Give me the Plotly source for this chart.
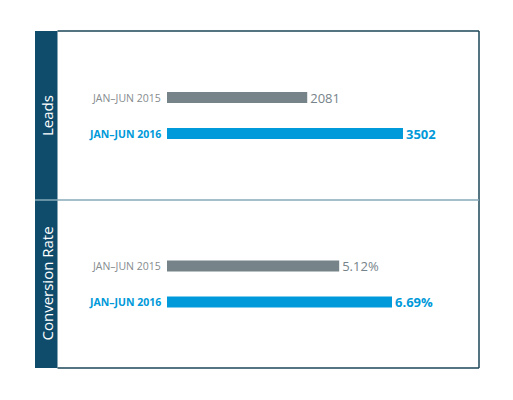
import plotly.graph_objects as go

# data
periods = ["JAN–JUN 2015", "JAN–JUN 2016"]
leads = [2081, 3502]
leads_text = ["2081", "<b>3502</b>"]
conversion = [5.12, 6.69]
conversion_text = ["5.12%", "<b>6.69%</b>"]
panel_titles = ["Leads", "Conversion Rate"]

GRAY = "#76848a"
BLUE = "#0099d9"
NAVY = "#0f4c6c"
BORDER = "#1d4658"
SEP = "#86a9b8"
W, H = 513, 400
FONT = "Open Sans"


def px_x(v):
    return v / W


def px_y(v):
    return 1 - v / H


fig = go.Figure()

bar_colors = [GRAY, BLUE]

for xs, txt, xa, ya in [(leads, leads_text, "x", "y"), (conversion, conversion_text, "x2", "y2")]:
    fig.add_trace(go.Bar(
        x=xs, y=periods, orientation="h", xaxis=xa, yaxis=ya,
        marker=dict(color=bar_colors, line=dict(width=0)), width=0.31,
        text=txt, textposition="outside", cliponaxis=False, constraintext="none",
        textfont=dict(color=bar_colors, size=13, family=FONT),
        hoverinfo="skip",
    ))

# category labels left of bars
for yref, xref in [("y", "x"), ("y2", "x2")]:
    for i, p in enumerate(periods):
        fig.add_annotation(
            x=0, y=p, xref=xref, yref=yref, text=p if i == 0 else "<b>%s</b>" % p,
            xanchor="right", xshift=-4, showarrow=False,
            font=dict(size=10.5, color="#858b8e" if i == 0 else BLUE, family=FONT),
        )

# sidebar titles
for title, yc in zip(panel_titles, [115.5, 284]):
    fig.add_annotation(
        x=px_x(46.5), y=px_y(yc), xref="paper", yref="paper", text=title,
        textangle=-90, showarrow=False, xanchor="center", yanchor="middle",
        font=dict(size=15, color="white", family=FONT),
    )

shapes = [
    dict(type="rect", xref="paper", yref="paper", x0=px_x(35), x1=px_x(57.5),
         y0=px_y(368), y1=px_y(31), fillcolor=NAVY, line=dict(width=0), layer="below"),
    dict(type="line", xref="paper", yref="paper", x0=px_x(57.5), x1=px_x(479),
         y0=px_y(31), y1=px_y(31), line=dict(color=BORDER, width=1.5)),
    dict(type="line", xref="paper", yref="paper", x0=px_x(479), x1=px_x(479),
         y0=px_y(31), y1=px_y(368), line=dict(color=BORDER, width=1.5)),
    dict(type="line", xref="paper", yref="paper", x0=px_x(57.5), x1=px_x(479),
         y0=px_y(368), y1=px_y(368), line=dict(color=BORDER, width=1.5)),
    dict(type="line", xref="paper", yref="paper", x0=px_x(35), x1=px_x(479),
         y0=px_y(200), y1=px_y(200), line=dict(color=SEP, width=1.5)),
]

axis_common = dict(showgrid=False, zeroline=False, showticklabels=False, showline=False, fixedrange=True)
fig.update_layout(
    width=W, height=H,
    margin=dict(l=0, r=0, t=0, b=0),
    paper_bgcolor="white", plot_bgcolor="white",
    showlegend=False,
    shapes=shapes,
    xaxis=dict(domain=[px_x(167), px_x(479)], range=[0, 4630], anchor="y", **axis_common),
    yaxis=dict(domain=[px_y(200), px_y(31)], range=[2.847, -1.847], anchor="x",
               type="category", categoryarray=periods, **axis_common),
    xaxis2=dict(domain=[px_x(167), px_x(479)], range=[0, 9.277], anchor="y2", **axis_common),
    yaxis2=dict(domain=[px_y(368), px_y(200)], range=[2.833, -1.833], anchor="x2",
                type="category", categoryarray=periods, **axis_common),
)

# page body has a default 8px margin; remove it so the figure sits at 0,0
fig.write_html("out.html", config={"displayModeBar": False},
               post_script="document.body.style.margin='0';")
